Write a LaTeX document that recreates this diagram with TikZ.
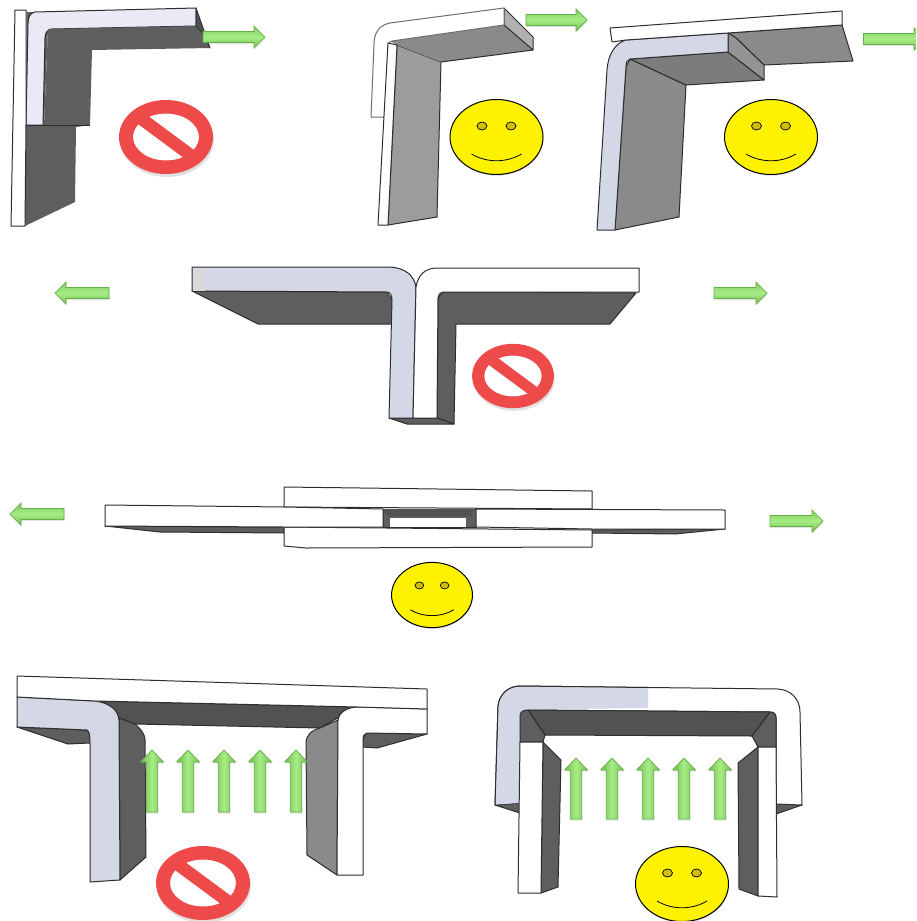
\documentclass[tikz,border=0pt]{standalone}
\usetikzlibrary{shadows}
\definecolor{lav}{HTML}{D3D7E6}
\definecolor{lavl}{HTML}{EAEAF6}
\definecolor{dk}{HTML}{5E5E5E}
\definecolor{dkk}{HTML}{525252}
\definecolor{gr}{HTML}{8A8A8A}
\definecolor{grl}{HTML}{9C9C9C}
\definecolor{ln}{HTML}{2E2E2E}
\definecolor{nored}{HTML}{EF4A4A}
\definecolor{gdark}{HTML}{6FBF4E}
\definecolor{glight}{HTML}{A6EC86}
\definecolor{gedge}{HTML}{66AE48}
\definecolor{eyecol}{HTML}{D2BE00}
\tikzset{
  part/.style={draw=ln,line width=1pt,line join=round},
  whitepart/.style={part,fill=white},
  lavpart/.style={part,fill=lav},
  darkpart/.style={part,fill=dk},
  greypart/.style={part,fill=gr},
  hgreen/.style={draw=gedge,line width=0.7pt,top color=gdark!70!glight,bottom color=gdark,middle color=glight,
     drop shadow={shadow xshift=0.5pt,shadow yshift=-1.5pt,opacity=.22}},
  vgreen/.style={draw=gedge,line width=0.7pt,left color=gdark,right color=gdark,middle color=glight,
     drop shadow={shadow xshift=0.5pt,shadow yshift=-1.5pt,opacity=.22}},
  face/.style={draw=black,line width=1pt,fill=yellow,drop shadow={shadow xshift=0.5pt,shadow yshift=-1.2pt,opacity=.3}},
  eye/.style={draw=black,line width=0.7pt,fill=eyecol},
}
% horizontal arrow: tail x, tip x, centre y, signed head length
\newcommand\harrow[4]{\path[hgreen] (#1,#3-5.5) -- ({#2-(#4)},#3-5.5) -- ({#2-(#4)},#3-11) -- (#2,#3) -- ({#2-(#4)},#3+11) -- ({#2-(#4)},#3+5.5) -- (#1,#3+5.5) -- cycle;}
% vertical up arrow: centre x, tip y, head base y, tail y
\newcommand\varrow[4]{\path[vgreen] (#1-5.7,#4) -- (#1-5.7,#3) -- (#1-11.5,#3) -- (#1,#2) -- (#1+11.5,#3) -- (#1+5.7,#3) -- (#1+5.7,#4) -- cycle;}
\newcommand\noentrysign[3]{\begin{scope}[shift={(#1,#2)},scale=#3]
  \fill[black,opacity=.12] (1,3) ellipse [x radius=47,y radius=37];
  \fill[white] (0,0) ellipse [x radius=33,y radius=23.5];
  \fill[nored,even odd rule] (0,0) ellipse [x radius=47,y radius=37] (0,0) ellipse [x radius=33,y radius=23.5];
  \draw[nored,line width=#3*12.5pt] (-25,-18.5) -- (25,18.5);
\end{scope}}
\newcommand\smface[3]{\begin{scope}[shift={(#1,#2)},scale=#3]
  \path[face] (0,0) ellipse [x radius=46.5,y radius=37.5];
  \draw[eye] (-14.5,-11) ellipse [x radius=5,y radius=4];
  \draw[eye] (14.5,-11) ellipse [x radius=5,y radius=4];
  \draw[line width=0.8pt] (-25,17) .. controls (-10,26) and (10,26) .. (25,17);
\end{scope}}
\begin{document}
\begin{tikzpicture}[x=1pt,y=-1pt]
\useasboundingbox (0,0) rectangle (916,921);
\clip (0,0) rectangle (916,921);
\fill[white] (0,0) rectangle (916,921);

%% Panel 1
\fill[dk] (27,12) -- (35,12) -- (48,29) -- (44,126) -- (26,126) -- cycle;
\draw[part,fill=lavl] (35,12) -- (196,8) -- (196,26) -- (52,29) .. controls (47,30) and (45,33) .. (45,38) -- (43,125) -- (26,125) -- (28,24) .. controls (28,17) and (30,13) .. (35,12) -- cycle;
\fill[dk] (48,29) -- (196,26) -- (203,33) -- (210,48) -- (92,50) -- (90,125) -- (76,127) -- (75,202) -- (25,226) -- (26,126) -- (44,126) -- cycle;
\draw[part,fill=dkk] (196,8) -- (210,48) -- (203,33) -- (196,26) -- cycle;
\draw[whitepart] (15,10) -- (26,10) -- (26,125) -- (25,226) -- (11,226) -- cycle;
\draw[part] (26,125) -- (90,125);
\harrow{203}{265}{37}{11}
\noentrysign{166}{137}{1}

%% Panel 2
\draw[part,fill=grl] (397,45) -- (441,62) -- (437,217) -- (388,225) -- cycle;
\fill[gr] (390,41) -- (504,25) -- (533,50) -- (441,62) -- (397,45) -- cycle;
\draw[part,fill=grl!80!white] (504,8) -- (533,37) -- (533,50) -- (504,25) -- cycle;
\draw[part] (533,50) -- (441,62);
\draw[whitepart,draw=ln!70!white] (371,117) -- (374,44) .. controls (374,32) and (380,25) .. (390,23) -- (504,8) -- (504,25) -- (392,41) .. controls (389,42) and (388,43) .. (388,46) -- (385,117) -- cycle;
\draw[whitepart] (388,43) -- (397,45) -- (388,225) -- (378,225) -- cycle;
\harrow{526}{587}{20}{11}
\smface{496.5}{137}{1}

%% Panel 3
\draw[part,fill=gr] (630,59) -- (686,85) -- (679,217) -- (615,230) -- (626,67) -- cycle;
\draw[part,fill=gr!90!black] (630,59) -- (728,52) -- (764,80) -- (686,85) -- cycle;
\draw[part,fill=gr] (728,33) -- (842,25) -- (853,61) -- (764,65) -- (736,38) -- cycle;
\draw[part,fill=grl!95!black] (728,33) -- (736,38) -- (764,65) -- (764,80) -- (728,52) -- cycle;
\draw[part,fill=lav] (626,40) -- (728,33) -- (728,52) -- (630,59) .. controls (627,60) and (626,62) .. (626,67) -- (615,230) -- (597,230) -- (607,70) .. controls (608,55) and (615,43) .. (626,40) -- cycle;
\draw[whitepart] (610,28) -- (842,11) -- (842,25) -- (728,33) -- (626,40) -- (612,42) -- cycle;
\harrow{863.5}{925}{39}{11}
\smface{771}{137}{1}

%% Panel 4 (T)
\draw[part,fill=dk] (192,291) -- (387,292) -- (392,300) -- (392,324) -- (258,324) -- cycle;
\draw[part,fill=dk] (443,292) -- (636,293) -- (610,324) -- (456,324) -- (454,424) -- (437,418) -- (438,298) -- cycle;
\draw[part,fill=dk] (389,418) -- (437,418) -- (454,424) -- (407,424) -- cycle;
\draw[lavpart] (192,267) -- (390,267) .. controls (405,268) and (414,275) .. (416,287) -- (413,418) -- (389,418) -- (392,300) .. controls (392,295) and (390,292) .. (387,292) -- (192,291) -- cycle;
\fill[black!15] (192.5,267.5) rectangle (205,290.5);
\draw[whitepart] (416,287) .. controls (418,275) and (425,268) .. (437,268) -- (639,268) -- (639,292) -- (443,292) .. controls (440,292) and (438,295) .. (438,298) -- (437,418) -- (413,418) -- cycle;
\harrow{109}{55}{293}{-11}
\harrow{714}{767}{293}{11}
\noentrysign{513}{376}{.87}

%% Panel 5 (flat)
\draw[part,fill=dk] (105,526) -- (284,527) -- (284,533) -- (160,532) -- cycle;
\draw[part,fill=dk] (592,530) -- (725,529) -- (675,534) -- (592,533) -- cycle;
\draw[whitepart] (284,487) -- (592,491) -- (592,509) -- (284,507) -- cycle;
\draw[whitepart] (284,527) -- (592,530) -- (592,547) -- (306,548) -- (284,546) -- cycle;
\draw[part,fill=dk] (383,509) -- (476,509) -- (476,527) -- (383,527) -- cycle;
\fill[dkk] (383,509) -- (476,509) -- (471,516) -- (388,516) -- cycle;
\fill[white] (390,518) -- (465.5,518) -- (465.5,527) -- (390,527) -- cycle;
\draw[whitepart] (105,505) -- (284,507) -- (383,509) -- (383,527) -- (284,527) -- (105,526) -- cycle;
\draw[whitepart] (476,509) -- (725,510) -- (725,529) -- (592,529) -- (476,527) -- cycle;
\harrow{64}{10}{514}{-11}
\harrow{770}{823}{521}{11}
\smface{432}{595}{.87}

%% Panel 6 (bottom left)
\draw[part,fill=dk] (17,727) -- (87,730) -- (91,735) -- (90,743) -- (68,744) -- cycle;
\draw[part,fill=dk] (367,733) -- (427,734) -- (377,748) -- (363,747) -- (363,738) -- cycle;
\draw[part,fill=dkk] (95,701) -- (357,707) -- (320,728) -- (135,724) -- (119,718) -- cycle;
\draw[part,fill=dk] (119,718) -- (135,724) .. controls (142,730) and (145,735) .. (145,740) -- (146,857) -- (120,880) -- cycle;
\draw[part,fill=gr] (320,728) -- (338,720) -- (337,875) -- (307,855) -- (306,743) .. controls (306,735) and (312,730) .. (320,728) -- cycle;
\draw[lavpart] (17,697) -- (95,701) .. controls (110,703) and (118,710) .. (119,720) -- (120,880) -- (90,882) -- (90,743) .. controls (90,735) and (89,731) .. (87,730) -- (17,727) -- cycle;
\draw[whitepart] (358,707) -- (427,709) -- (427,734) -- (367,733) .. controls (364,734) and (363,736) .. (363,738) -- (363,875) -- (337,875) -- (338,720) .. controls (339,712) and (348,707) .. (358,707) -- cycle;
\draw[whitepart] (17,676) -- (427,689) -- (427,709) -- (358,707) -- (95,701) -- (17,697) -- cycle;
\foreach \ax in {152,188,224,260,296}{\varrow{\ax}{750}{762}{812}}
\noentrysign{203}{883}{1}

%% Panel 7 (bottom right)
\draw[part,fill=dk] (495,805) -- (520,803) -- (520,813) -- cycle;
\draw[part,fill=dk] (776,803) -- (802,805) -- (776,814) -- cycle;
\draw[whitepart] (495,805) -- (498,706) .. controls (499,695) and (508,686) .. (520,686) -- (778,689) .. controls (792,690) and (800,700) .. (800,712) -- (802,805) -- (776,804) -- (776,718) .. controls (776,714) and (774,712) .. (770,712) -- (528,710) .. controls (523,710) and (520,712) .. (520,716) -- (520,803) -- cycle;
\fill[lav] (495.5,804.5) -- (498.5,706) .. controls (499.5,695) and (508,686.5) .. (520,686.5) -- (648,687.5) -- (648,708) -- (528,709.5) .. controls (523,710) and (520,712) .. (520,716) -- (520,803) -- cycle;
\draw[part] (495,805) -- (498,706) .. controls (499,695) and (508,686) .. (520,686) -- (648,687.5);
\draw[part,fill=dkk] (528,710) -- (770,712) -- (752,736) -- (545,735) -- cycle;
\draw[part,fill=dk] (520,716) .. controls (520,712) and (523,710) .. (528,710) -- (545,735) -- (543,742) -- (520,742) -- cycle;
\draw[part,fill=dk] (770,712) .. controls (774,712) and (776,714) .. (776,718) -- (776,747) -- (758,747) -- (752,736) -- cycle;
\draw[part,fill=dk] (543,742) -- (561,760) -- (558,887) -- (541,893) -- cycle;
\draw[whitepart] (520,742) -- (543,742) -- (541,893) -- (518,893) -- cycle;
\draw[part,fill=dk] (758,747) -- (758,896) -- (739,889) -- (738,763) -- cycle;
\draw[whitepart] (758,747) -- (776,747) -- (777,897) -- (758,896) -- cycle;
\foreach \ax in {576,612,648,684,720}{\varrow{\ax}{758}{770}{819}}
\smface{682}{884}{1}
\end{tikzpicture}
\end{document}
